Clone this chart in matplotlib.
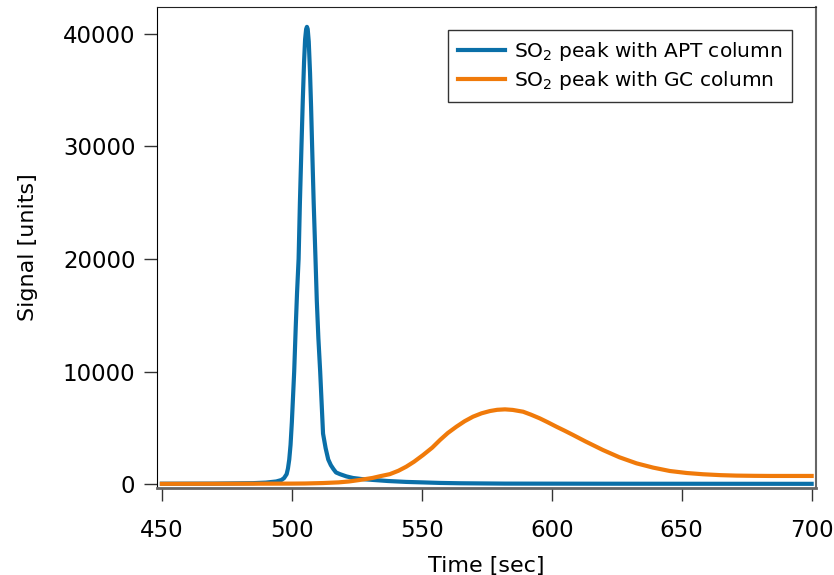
import matplotlib
matplotlib.use("Agg")
import matplotlib.pyplot as plt

plt.rcParams['font.family'] = ['DejaVu Sans']
plt.rcParams['mathtext.fontset'] = 'dejavusans'

# SO2 peak with APT column
apt_time = [450, 470, 485, 490, 494, 496, 497, 498, 498.5, 499, 499.5, 500, 500.5,
            500.9, 501.5, 502, 502.6, 503.1, 503.7, 504.2, 504.7, 505.1, 505.5, 505.8,
            506.1, 506.5, 507, 507.4, 507.8, 508.4, 509.1, 509.6, 510.2, 510.9, 511.5,
            512, 513, 514, 515, 516, 517, 518.5, 521, 523.5, 527, 531, 537, 544, 550,
            557, 565, 582, 620, 660, 700]
apt_signal = [50, 60, 100, 150, 250, 380, 550, 900, 1400, 2200, 3500, 5500, 8000,
              10000, 14000, 17000, 20000, 25000, 30000, 34000, 37500, 39500, 40400, 40600,
              40400, 39300, 36500, 33500, 30000, 25000, 20000, 16300, 13000, 10000, 7000,
              4500, 3200, 2200, 1700, 1350, 1050, 900, 700, 560, 460, 390, 290, 210, 170,
              120, 90, 60, 50, 45, 40]

# SO2 peak with GC column
gc_time = [450, 480, 500, 505, 512, 518, 522, 526, 531, 534, 537.7, 541, 544, 547,
           550.5, 554, 557, 560, 563.3, 566.5, 569.7, 573, 576.2, 579, 582, 585, 589,
           592, 595.4, 598.5, 601.8, 605, 608, 613, 619.7, 626, 632.6, 639, 645.4, 652,
           658.2, 665, 671, 678, 684, 692, 700]
gc_signal = [40, 50, 60, 70, 110, 170, 250, 380, 560, 720, 900, 1200, 1560, 2000,
             2600, 3250, 3930, 4550, 5110, 5600, 6000, 6300, 6500, 6610, 6650, 6600, 6440,
             6180, 5850, 5500, 5110, 4750, 4400, 3800, 3040, 2400, 1860, 1480, 1180, 1000,
             890, 810, 770, 750, 740, 740, 740]

fig = plt.figure(figsize=(8.34, 5.75), dpi=100)
ax = fig.add_axes([0.1882, 0.1513, 0.790, 0.8365])

ax.plot(apt_time, apt_signal, color='#0a6fa8', lw=3, solid_joinstyle='round',
        label='SO$_2$ peak with APT column')
ax.plot(gc_time, gc_signal, color='#f07a0a', lw=3, solid_joinstyle='round',
        label='SO$_2$ peak with GC column')

ax.set_xlim(448.1, 701.6)
ax.set_ylim(-330, 42360)
ax.set_xticks([450, 500, 550, 600, 650, 700])
ax.set_yticks([0, 10000, 20000, 30000, 40000])

ax.tick_params(direction='out', length=9.5, width=1, color='#333333', labelsize=16.5)
ax.tick_params(axis='x', pad=13)
ax.tick_params(axis='y', pad=6)
ax.spines['left'].set_color('black')
ax.spines['top'].set_color('#222222')
ax.spines['bottom'].set_color('#666666')
ax.spines['right'].set_color('#666666')
ax.spines['bottom'].set_linewidth(2)
ax.spines['right'].set_linewidth(1.5)

ax.set_xlabel('Time [sec]', fontsize=16, labelpad=10)
ax.set_ylabel('Signal [units]', fontsize=16, labelpad=18)

leg = ax.legend(loc='upper right', bbox_to_anchor=(0.964, 0.952), borderaxespad=0,
                fontsize=14.5, frameon=True, fancybox=False, edgecolor='black',
                handlelength=2.3, handletextpad=0.45, borderpad=0.5, labelspacing=0.3)
leg.get_frame().set_linewidth(1)

fig.savefig('out.png', dpi=100)
